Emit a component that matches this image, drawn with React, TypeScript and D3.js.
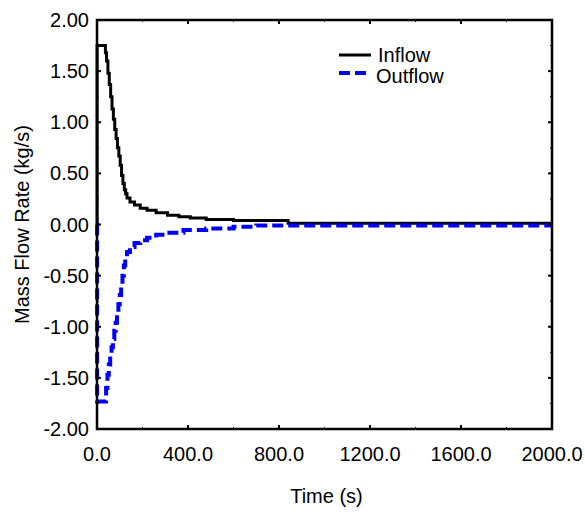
import React from "react";
import * as d3 from "d3";

const inflowTime = [0, 0.5, 37, 42, 48, 54, 60, 66, 72, 78, 84, 90, 96, 102, 108, 114, 120, 126, 132, 145, 165, 190, 220, 260, 310, 360, 410, 480, 600, 840, 2000];
const inflowValue = [0, 1.75, 1.68, 1.6, 1.48, 1.37, 1.25, 1.13, 1.03, 0.93, 0.84, 0.75, 0.67, 0.58, 0.48, 0.4, 0.34, 0.3, 0.26, 0.22, 0.19, 0.16, 0.14, 0.115, 0.09, 0.075, 0.064, 0.05, 0.04, 0.012, 0.012];

const outflowTime = [0, 0.5, 40, 46, 52, 58, 64, 70, 76, 82, 88, 94, 100, 106, 112, 118, 124, 132, 145, 165, 190, 220, 260, 300, 380, 480, 600, 700, 2000];
const outflowValue = [0, -1.73, -1.6, -1.47, -1.37, -1.28, -1.2, -1.12, -1.04, -0.96, -0.87, -0.78, -0.69, -0.6, -0.5, -0.4, -0.32, -0.27, -0.22, -0.18, -0.155, -0.13, -0.1, -0.08, -0.055, -0.04, -0.022, -0.01, -0.01];

const xTicks = [0, 400, 800, 1200, 1600, 2000];
const xMinorTicks = [200, 600, 1000, 1400, 1800];
const yTicks = [2, 1.5, 1, 0.5, 0, -0.5, -1, -1.5, -2];
const yMinorTicks = [1.75, 1.25, 0.75, 0.25, -0.25, -0.75, -1.25, -1.75];
const seriesNames = ["Inflow", "Outflow"];

const W = 585, H = 516;
const L = 97, R = 552, T = 20, B = 429;
const FONT = "'Liberation Sans', Arial, sans-serif";
const FS = 20;

export default function App() {
  const x = d3.scaleLinear().domain([0, 2000]).range([L, R]);
  const y = d3.scaleLinear().domain([-2, 2]).range([B, T]);
  const line = d3
    .line<[number, number]>()
    .x((d) => x(d[0]))
    .y((d) => y(d[1]))
    .curve(d3.curveStepAfter);
  const inflow = inflowTime.map((t, i) => [t, inflowValue[i]] as [number, number]);
  const outflow = outflowTime.map((t, i) => [t, outflowValue[i]] as [number, number]);

  return (
    <div style={{ position: "fixed", left: 0, top: 0 }}>
      <svg width={W} height={H} style={{ display: "block", background: "#fff" }} fontFamily={FONT}>
        <defs>
          <clipPath id="clip">
            <rect x={L - 3} y={T - 3} width={R - L + 6} height={B - T + 6} />
          </clipPath>
        </defs>
        <g clipPath="url(#clip)">
          <path d={line(inflow) || ""} fill="none" stroke="#000" strokeWidth={3} />
          <path d={line(outflow) || ""} fill="none" stroke="#0000ff" strokeWidth={4} strokeDasharray="11,5" />
        </g>
        <rect x={L} y={T} width={R - L} height={B - T} fill="none" stroke="#000" strokeWidth={2.5} />
        {xTicks.map((t) => (
          <g key={"xt" + t}>
            <line x1={x(t)} x2={x(t)} y1={B} y2={B - 4} stroke="#000" strokeWidth={2} />
            <line x1={x(t)} x2={x(t)} y1={T} y2={T + 4} stroke="#000" strokeWidth={2} />
            <text x={x(t)} y={B + 32} textAnchor="middle" fontSize={FS}>
              {t.toFixed(1)}
            </text>
          </g>
        ))}
        {xMinorTicks.map((t) => (
          <g key={"xm" + t}>
            <line x1={x(t)} x2={x(t)} y1={B} y2={B - 2} stroke="#000" strokeWidth={1} />
            <line x1={x(t)} x2={x(t)} y1={T} y2={T + 2} stroke="#000" strokeWidth={1} />
          </g>
        ))}
        {yTicks.map((v) => (
          <g key={"yt" + v}>
            <line x1={L} x2={L + 4} y1={y(v)} y2={y(v)} stroke="#000" strokeWidth={2} />
            <line x1={R} x2={R - 4} y1={y(v)} y2={y(v)} stroke="#000" strokeWidth={2} />
            <text x={L - 8} y={y(v)} dy="0.35em" textAnchor="end" fontSize={FS}>
              {v.toFixed(2)}
            </text>
          </g>
        ))}
        {yMinorTicks.map((v) => (
          <g key={"ym" + v}>
            <line x1={L} x2={L + 2} y1={y(v)} y2={y(v)} stroke="#000" strokeWidth={1} />
            <line x1={R} x2={R - 2} y1={y(v)} y2={y(v)} stroke="#000" strokeWidth={1} />
          </g>
        ))}
        <text x={(L + R) / 2 + 2} y={503} textAnchor="middle" fontSize={FS}>
          Time (s)
        </text>
        <text transform={`translate(29,${(T + B) / 2}) rotate(-90)`} textAnchor="middle" fontSize={FS}>
          Mass Flow Rate (kg/s)
        </text>
        <line x1={339} x2={371} y1={55} y2={55} stroke="#000" strokeWidth={3} />
        <text x={378} y={55} dy="0.35em" fontSize={FS}>{seriesNames[0]}</text>
        <line x1={339} x2={371} y1={73} y2={73} stroke="#0000ff" strokeWidth={4} strokeDasharray="11,5" />
        <text x={376} y={76} dy="0.35em" fontSize={FS}>{seriesNames[1]}</text>
      </svg>
    </div>
  );
}
